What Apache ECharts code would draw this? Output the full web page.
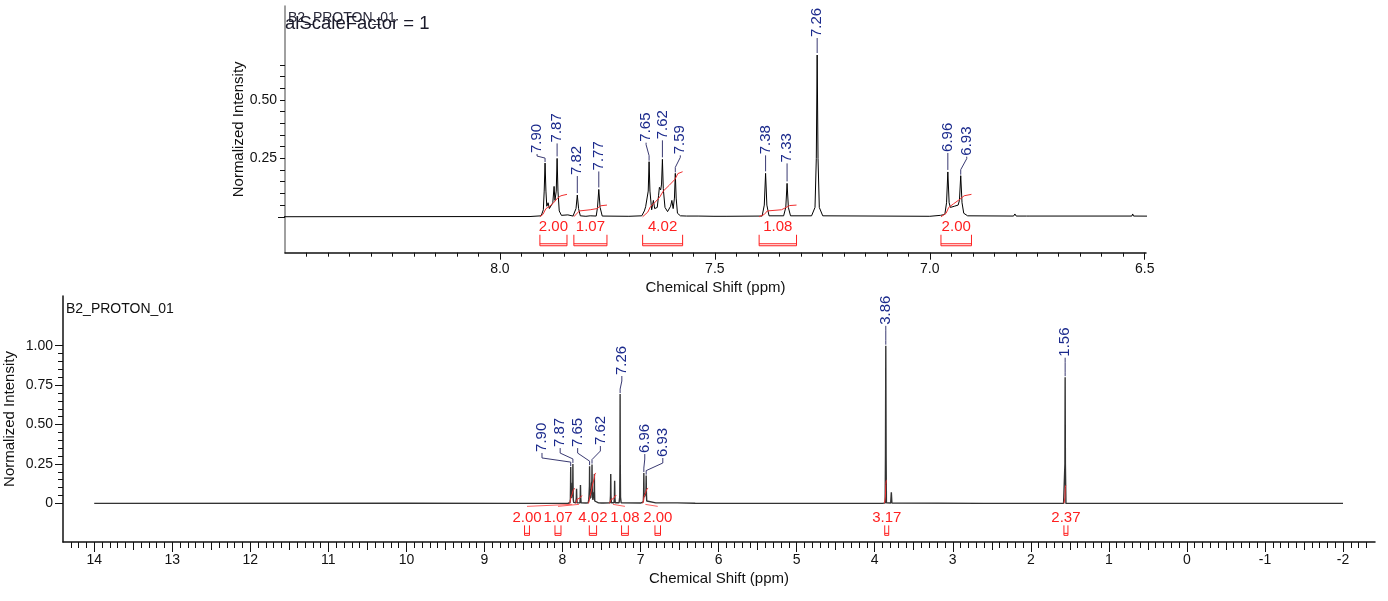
<!DOCTYPE html>
<html>
<head>
<meta charset="utf-8">
<script src="https://cdn.jsdelivr.net/npm/echarts@6/dist/echarts.min.js"></script>
<style>
html,body{margin:0;padding:0;background:#fff;}
#c{width:1388px;height:601px;}
</style>
</head>
<body>
<div id="c"></div>
<script>
// ---------------- DATA ----------------
// spectrum: [chemical shift (ppm), normalized intensity]
const spectrumPoints = [
  [14.00, 0.000], [10.00, 0.001], [8.60, 0.000],
  [7.930, 0.001], [7.904, 0.004], [7.899, 0.030], [7.897, 0.110], [7.895, 0.230], [7.893, 0.110],
  [7.891, 0.045], [7.888, 0.060], [7.885, 0.035], [7.877, 0.060], [7.874, 0.130], [7.872, 0.070],
  [7.869, 0.110], [7.867, 0.250], [7.865, 0.110], [7.862, 0.025], [7.857, 0.006], [7.842, 0.008],
  [7.830, 0.003], [7.823, 0.035], [7.820, 0.093], [7.817, 0.035], [7.813, 0.004], [7.800, 0.002],
  [7.790, 0.004], [7.776, 0.003], [7.773, 0.040], [7.770, 0.117], [7.767, 0.040], [7.762, 0.003],
  [7.700, 0.002], [7.670, 0.004], [7.664, 0.025], [7.661, 0.043], [7.658, 0.035], [7.655, 0.110],
  [7.653, 0.236], [7.651, 0.110], [7.647, 0.030], [7.643, 0.070], [7.640, 0.035], [7.634, 0.040],
  [7.631, 0.090], [7.629, 0.126], [7.626, 0.115], [7.624, 0.140], [7.622, 0.246], [7.620, 0.120],
  [7.616, 0.040], [7.610, 0.022], [7.603, 0.045], [7.600, 0.070], [7.597, 0.035], [7.594, 0.080],
  [7.592, 0.186], [7.590, 0.080], [7.587, 0.015], [7.580, 0.004],
  [7.566, 0.003], [7.565, 0.010], [7.563, 0.003], [7.539, 0.003], [7.537, 0.009], [7.535, 0.003],
  [7.502, 0.002], [7.500, 0.008], [7.498, 0.002], [7.474, 0.002], [7.472, 0.009], [7.470, 0.002],
  [7.390, 0.003], [7.385, 0.050], [7.382, 0.186], [7.379, 0.050], [7.374, 0.004],
  [7.340, 0.004], [7.335, 0.040], [7.332, 0.143], [7.329, 0.040], [7.324, 0.004],
  [7.275, 0.004], [7.267, 0.040], [7.264, 0.250], [7.262, 0.693], [7.260, 0.250], [7.257, 0.040], [7.249, 0.004],
  [7.000, 0.002], [6.975, 0.006], [6.965, 0.010], [6.961, 0.060], [6.958, 0.192], [6.955, 0.060],
  [6.952, 0.040], [6.943, 0.045], [6.934, 0.050], [6.931, 0.070], [6.928, 0.176], [6.925, 0.060],
  [6.921, 0.015], [6.912, 0.004],
  [6.805, 0.003], [6.802, 0.012], [6.799, 0.003], [6.775, 0.003], [6.772, 0.009], [6.769, 0.003],
  [6.530, 0.003], [6.528, 0.012], [6.526, 0.003], [6.300, 0.001],
  [3.900, 0.000], [3.866, 0.003], [3.862, 0.300], [3.858, 1.000], [3.854, 0.300], [3.850, 0.003],
  [3.795, 0.002], [3.787, 0.070], [3.780, 0.002],
  [2.600, 0.000], [2.590, 0.006], [2.580, 0.000],
  [1.580, 0.000], [1.563, 0.250], [1.560, 0.800], [1.557, 0.250], [1.550, 0.000],
  [1.270, 0.000], [1.260, 0.008], [1.250, 0.000], [-2.00, 0.000]
];

// labelled peaks
const peakPpm    = [7.895, 7.867, 7.820, 7.770, 7.653, 7.622, 7.592, 7.382, 7.332, 7.262, 6.958, 6.928, 3.858, 1.560];
const peakHeight = [0.230, 0.250, 0.093, 0.117, 0.236, 0.246, 0.186, 0.186, 0.143, 0.693, 0.192, 0.176, 1.000, 0.800];
const peakLabels = ['7.90','7.87','7.82','7.77','7.65','7.62','7.59','7.38','7.33','7.26','6.96','6.93','3.86','1.56'];
const topPeakIdx    = [0,1,2,3,4,5,6,7,8,9,10,11];
const bottomPeakIdx = [0,1,4,5,9,10,11,12,13];

// integrals
const integralValues = [2.00, 1.07, 4.02, 1.08, 2.00, 3.17, 2.37];
const integralStart  = [7.907, 7.828, 7.668, 7.397, 6.974, 3.875, 1.575];
const integralEnd    = [7.844, 7.751, 7.575, 7.310, 6.903, 3.845, 1.548];
const integralCurves = [
  [[7.907,0.000],[7.900,0.010],[7.893,0.035],[7.884,0.045],[7.875,0.060],[7.866,0.080],[7.858,0.090],[7.844,0.096]],
  [[7.828,0.000],[7.822,0.012],[7.815,0.025],[7.790,0.030],[7.774,0.035],[7.766,0.047],[7.751,0.050]],
  [[7.668,0.000],[7.656,0.020],[7.650,0.043],[7.640,0.060],[7.628,0.085],[7.620,0.110],[7.606,0.135],[7.593,0.160],[7.586,0.185],[7.575,0.193]],
  [[7.397,0.000],[7.385,0.010],[7.378,0.025],[7.345,0.030],[7.334,0.040],[7.326,0.048],[7.310,0.050]],
  [[6.974,0.000],[6.962,0.015],[6.956,0.040],[6.945,0.055],[6.930,0.075],[6.920,0.090],[6.903,0.096]],
  [[3.875,0.000],[3.863,0.040],[3.858,0.120],[3.852,0.145],[3.845,0.148]],
  [[1.575,0.000],[1.563,0.035],[1.558,0.100],[1.552,0.114],[1.548,0.116]]
];

// tick labels
const topXTicks    = [8.0, 7.5, 7.0, 6.5];
const topYTicks    = [0.25, 0.50];
const bottomXTicks = [14,13,12,11,10,9,8,7,6,5,4,3,2,1,0,-1,-2];
const bottomYTicks = [0, 0.25, 0.50, 0.75, 1.00];

// ---------------- LAYOUT (label placement, px / ppm) ----------------
const topLabelDx  = [-8, 0, 0, 0, -3, 0, 5, 0, 0, 0, 0, 6];
const topLabelGap = [9, 15, 19, 18, 19, 19, 18, 18, 20, 17, 19, 19];
const bottomLabelAt = { // index -> [text ppm, text-bottom level]
  0:[8.263,0.326], 1:[8.030,0.357], 4:[7.806,0.357], 5:[7.515,0.370], 9:[7.240,0.814],
  10:[6.946,0.319], 11:[6.715,0.294], 12:[3.858,1.132], 13:[1.560,0.930]
};
const bottomIntegralLabelPpm = [8.455, 8.058, 7.610, 7.200, 6.780, 3.846, 1.550];

// ---------------- helpers ----------------
const FONT = '"Liberation Sans", Arial, Helvetica, sans-serif';
const BLUE = '#1b2a8c', LEADER = '#3a3a72', RED = '#ff2020';
function steps(from, to, step) {
  const out = []; const n = Math.round((to - from) / step);
  for (let k = 0; k <= n; k++) out.push(+(from + k * step).toFixed(4));
  return out;
}
const isIn = (v, arr) => arr.some(m => Math.abs(m - v) < 1e-6);
const topXMinor = steps(6.55, 8.45, 0.05).filter(v => !isIn(v, topXTicks));
const topYMinor = steps(0.05, 0.65, 0.05);
const bottomXMid = steps(-1.5, 13.5, 1);
const bottomXMinor = steps(-2.3, 14.3, 0.1).filter(v => Math.abs(v*2 - Math.round(v*2)) > 1e-6);
const bottomYMinor = steps(0.05, 0.95, 0.05).filter(v => !isIn(v, bottomYTicks));

const TOP = {min: 6.497, max: 8.5, ymin: -0.154, ymax: 0.903};
const BOT = {min: -2.41, max: 14.40, ymin: -0.245, ymax: 1.315};

function xAxisDef(grid, r, ticks, len, labels, fmt, extra) {
  return Object.assign({
    gridIndex: grid, type: 'value', inverse: true, min: r.min, max: r.max, position: 'bottom',
    axisLine: {show: !!labels, onZero: false, lineStyle: {color: '#111', width: 1.5}},
    axisTick: {show: true, length: len, customValues: ticks, lineStyle: {color: '#111', width: 1}},
    axisLabel: labels ? {show: true, customValues: labels, formatter: fmt, fontSize: 14, color: '#111', fontFamily: FONT, margin: 9}
                      : {show: false},
    splitLine: {show: false}
  }, extra || {});
}
function yAxisDef(grid, r, ticks, len, labels, fmt, lineColor, extra) {
  return Object.assign({
    gridIndex: grid, type: 'value', min: r.ymin, max: r.ymax, position: 'left',
    axisLine: {show: !!labels, onZero: false, lineStyle: {color: lineColor || '#111', width: 1.5}},
    axisTick: {show: true, length: len, customValues: ticks, lineStyle: {color: '#111', width: 1}},
    axisLabel: labels ? {show: true, customValues: labels, formatter: fmt, fontSize: 14, color: '#111', fontFamily: FONT, margin: 8}
                      : {show: false},
    splitLine: {show: false}
  }, extra || {});
}
const nameStyle = {fontSize: 15, color: '#111', fontFamily: FONT};

// ---------------- render functions ----------------
function vText(x, y, text, color, size) {
  return {type: 'text', x: x, y: y, rotation: Math.PI / 2,
    style: {text: text, x: 0, y: 0, align: 'left', verticalAlign: 'middle', fill: color, font: size + 'px ' + FONT}};
}
function topPeakRender(params, api) {
  const i = api.value(2);
  const p = api.coord([api.value(0), api.value(1)]);
  const dx = topLabelDx[i], gap = topLabelGap[i];
  const tx = p[0] + dx, tb = p[1] - gap;
  const pts = dx === 0 ? [[p[0], tb], [p[0], p[1] - 2]]
                       : [[tx, tb], [tx, tb + 2], [p[0], tb + Math.max(4, gap - 6)], [p[0], p[1] - 1]];
  return {type: 'group', children: [
    {type: 'polyline', shape: {points: pts}, style: {stroke: LEADER, lineWidth: 1, fill: null}},
    vText(tx, tb - 1, peakLabels[i], BLUE, 15)
  ]};
}
function bottomPeakRender(params, api) {
  const i = api.value(2);
  const p = api.coord([api.value(0), api.value(1)]);
  const at = bottomLabelAt[i];
  const tx = api.coord([at[0], 0])[0];
  const tb = api.coord([0, at[1]])[1];
  const pts = [[tx, tb + 1], [tx, tb + 6], [p[0], p[1] - 5], [p[0], p[1] - 1]];
  return {type: 'group', children: [
    {type: 'polyline', shape: {points: pts}, style: {stroke: LEADER, lineWidth: 1, fill: null}},
    vText(tx, tb, peakLabels[i], BLUE, 15)
  ]};
}
function topIntegralRender(params, api) {
  const i = api.value(2);
  const a = api.coord([api.value(0), 0]), b = api.coord([api.value(1), 0]);
  const base = a[1], x0 = a[0], x1 = b[0], cx = (x0 + x1) / 2;
  return {type: 'group', children: [
    {type: 'text', x: cx, y: base + 10, style: {text: integralValues[i].toFixed(2), align: 'center', verticalAlign: 'middle', fill: RED, font: '15px ' + FONT}},
    {type: 'polyline', shape: {points: [[x0, base + 18], [x0, base + 29], [x1, base + 29], [x1, base + 18]]}, style: {stroke: RED, lineWidth: 1, fill: null}},
    {type: 'line', shape: {x1: x0, y1: base + 27, x2: x1, y2: base + 27}, style: {stroke: RED, lineWidth: 1}}
  ]};
}
function bottomIntegralRender(params, api) {
  const i = api.value(2);
  const a = api.coord([api.value(0), 0]), b = api.coord([api.value(1), 0]);
  const base = a[1], w = Math.max(4, Math.abs(b[0] - a[0])), cx = (a[0] + b[0]) / 2;
  const lx = api.coord([bottomIntegralLabelPpm[i], 0])[0];
  const x0 = lx - w / 2, x1 = lx + w / 2;
  const ch = [
    {type: 'text', x: lx, y: base + 14, style: {text: integralValues[i].toFixed(2), align: 'center', verticalAlign: 'middle', fill: RED, font: '15px ' + FONT}},
    {type: 'polyline', shape: {points: [[x0, base + 22], [x0, base + 32], [x1, base + 32], [x1, base + 22]]}, style: {stroke: RED, lineWidth: 1, fill: null}},
    {type: 'line', shape: {x1: x0, y1: base + 30, x2: x1, y2: base + 30}, style: {stroke: RED, lineWidth: 1}}
  ];
  if (Math.abs(lx - cx) > 4) {
    ch.push({type: 'line', shape: {x1: cx, y1: base + 1, x2: lx, y2: base + 3}, style: {stroke: '#ff6060', lineWidth: 1}});
  }
  return {type: 'group', children: ch};
}

// ---------------- option ----------------
const series = [];
// top
series.push({type: 'line', xAxisIndex: 0, yAxisIndex: 0, data: spectrumPoints, symbol: 'none', clip: true,
  lineStyle: {color: '#000', width: 1}, silent: true, animation: false, z: 3});
integralCurves.forEach(c => series.push({type: 'line', xAxisIndex: 0, yAxisIndex: 0, data: c, symbol: 'none', clip: true,
  lineStyle: {color: '#f03030', width: 1}, silent: true, animation: false, z: 4}));
series.push({type: 'custom', xAxisIndex: 0, yAxisIndex: 0, renderItem: topPeakRender, silent: true, animation: false, z: 5,
  data: topPeakIdx.map(i => [peakPpm[i], peakHeight[i], i])});
series.push({type: 'custom', xAxisIndex: 0, yAxisIndex: 0, renderItem: topIntegralRender, silent: true, animation: false, z: 5,
  data: [0,1,2,3,4].map(i => [integralStart[i], integralEnd[i], i])});
// bottom
series.push({type: 'line', xAxisIndex: 2, yAxisIndex: 2, data: spectrumPoints, symbol: 'none', clip: true,
  lineStyle: {color: '#333', width: 1.4}, silent: true, animation: false, z: 3});
integralCurves.forEach(c => series.push({type: 'line', xAxisIndex: 2, yAxisIndex: 2, data: c, symbol: 'none', clip: true,
  lineStyle: {color: '#f03030', width: 1}, silent: true, animation: false, z: 4}));
series.push({type: 'custom', xAxisIndex: 2, yAxisIndex: 2, renderItem: bottomPeakRender, silent: true, animation: false, z: 5,
  data: bottomPeakIdx.map(i => [peakPpm[i], peakHeight[i], i])});
series.push({type: 'custom', xAxisIndex: 2, yAxisIndex: 2, renderItem: bottomIntegralRender, silent: true, animation: false, z: 5,
  data: integralValues.map((v, i) => [integralStart[i], integralEnd[i], i])});

const option = {
  backgroundColor: '#fff',
  animation: false,
  textStyle: {fontFamily: FONT},
  grid: [
    {left: 285, top: 6, width: 861, height: 246.7, containLabel: false, outerBoundsMode: 'none'},
    {left: 63, top: 296, width: 1312, height: 246, containLabel: false, outerBoundsMode: 'none'}
  ],
  xAxis: [
    xAxisDef(0, TOP, topXTicks, 7, topXTicks, v => v.toFixed(1),
      {name: 'Chemical Shift (ppm)', nameLocation: 'middle', nameGap: 28, nameMoveOverlap: false, nameTextStyle: nameStyle}),
    xAxisDef(0, TOP, topXMinor, 4, null),
    (function(){ const a = xAxisDef(1, BOT, bottomXTicks, 10, bottomXTicks, v => String(Math.round(v)),
      {name: 'Chemical Shift (ppm)', nameLocation: 'middle', nameGap: 29, nameMoveOverlap: false, nameTextStyle: nameStyle});
      a.axisLabel.margin = 11; return a; })(),
    xAxisDef(1, BOT, bottomXMid, 8, null),
    xAxisDef(1, BOT, bottomXMinor, 6, null)
  ],
  yAxis: [
    yAxisDef(0, TOP, topYMinor, 5, topYTicks, v => v.toFixed(2), '#808080',
      {name: 'Normalized Intensity', nameLocation: 'middle', nameGap: 39, nameMoveOverlap: false, nameRotate: 90, nameTextStyle: nameStyle}),
    yAxisDef(0, TOP, [0], 7, null),
    (function(){ const a = yAxisDef(1, BOT, bottomYTicks, 8, bottomYTicks, v => (Math.abs(v) < 1e-9 ? '0' : v.toFixed(2)), '#111',
      {name: 'Normalized Intensity', nameLocation: 'middle', nameGap: 46, nameMoveOverlap: false, nameRotate: 90, nameTextStyle: nameStyle});
      a.axisLabel.margin = 10; return a; })(),
    yAxisDef(1, BOT, bottomYMinor, 5, null)
  ],
  graphic: [
    {type: 'text', left: 288, top: 11, z: 10, style: {text: 'B2_PROTON_01', font: '14px ' + FONT, fill: '#2a2a3a'}},
    {type: 'text', left: 285, top: 14, z: 11, style: {text: 'alScaleFactor = 1', font: '18.5px ' + FONT, fill: '#1a1a2a'}},
    {type: 'text', left: 66, top: 302, z: 10, style: {text: 'B2_PROTON_01', font: '14px ' + FONT, fill: '#111'}}
  ],
  series: series
};

const chart = echarts.init(document.getElementById('c'), null, {renderer: 'canvas'});
chart.setOption(option);
</script>
</body>
</html>
